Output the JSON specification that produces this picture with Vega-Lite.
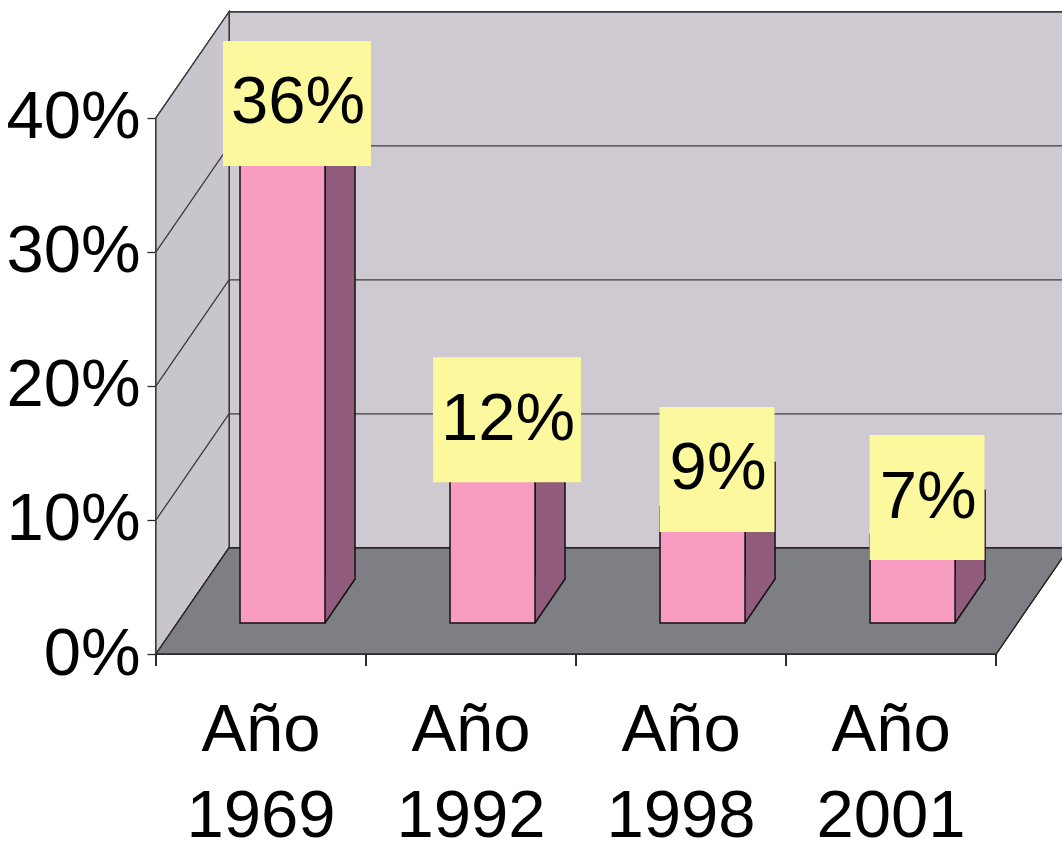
{
  "$schema": "https://vega.github.io/schema/vega-lite/v6.json",
  "width": 906,
  "height": 642,
  "autosize": {"type": "none"},
  "padding": {"left": 156, "top": 12, "right": 0, "bottom": 189},
  "background": "white",
  "config": {
    "view": {"stroke": null},
    "font": "Liberation Sans"
  },
  "datasets": {
    "bars": [
      {"year": "1969", "pct": 0.36},
      {"year": "1992", "pct": 0.124},
      {"year": "1998", "pct": 0.087},
      {"year": "2001", "pct": 0.066}
    ],
    "grid": [{"v": 0.1}, {"v": 0.2}, {"v": 0.3}]
  },
  "data": {"name": "bars"},
  "layer": [
    {
      "mark": {
        "type": "point", "size": 4, "opacity": 1, "filled": true,
        "shape": "M-32,-106 L812,-106 L812,-642 L-32,-642 Z",
        "fill": "#cfcad2", "stroke": "#3c3c3c", "strokeWidth": 1.3
      },
      "encoding": {
        "x": {"datum": "1969", "type": "nominal"},
        "y": {"datum": 0, "type": "quantitative"}
      }
    },
    {
      "mark": {
        "type": "point", "size": 4, "opacity": 1, "filled": true,
        "shape": "M-105,0 L-105,-536 L-32,-642 L-32,-106 Z",
        "fill": "#c8c6cc", "stroke": "#3c3c3c", "strokeWidth": 1.3
      },
      "encoding": {
        "x": {"datum": "1969", "type": "nominal"},
        "y": {"datum": 0, "type": "quantitative"}
      }
    },
    {
      "data": {"name": "grid"},
      "mark": {
        "type": "point", "size": 4, "opacity": 1, "filled": false, "fillOpacity": 0,
        "shape": "M-105,0 L-32,-106 L812,-106",
        "stroke": "#3c3c3c", "strokeWidth": 1.3
      },
      "encoding": {
        "x": {"datum": "1969", "type": "nominal"},
        "y": {"field": "v", "type": "quantitative"}
      }
    },
    {
      "mark": {
        "type": "point", "size": 4, "opacity": 1, "filled": true,
        "shape": "M-105,0 L735,0 L808,-106 L-32,-106 Z",
        "fill": "#7e7f84", "stroke": "#2a2a2a", "strokeWidth": 1.3
      },
      "encoding": {
        "x": {"datum": "1969", "type": "nominal"},
        "y": {"datum": 0, "type": "quantitative"}
      }
    },
    {
      "mark": {
        "type": "point", "size": 4, "opacity": 1, "filled": false, "fillOpacity": 0,
        "shape": "M-105,0 L-105,12 M105,0 L105,12 M315,0 L315,12 M525,0 L525,12 M735,0 L735,12",
        "stroke": "#2a2a2a", "strokeWidth": 1.3
      },
      "encoding": {
        "x": {"datum": "1969", "type": "nominal"},
        "y": {"datum": 0, "type": "quantitative"}
      }
    },
    {
      "mark": {
        "type": "bar", "width": 30, "xOffset": 79, "yOffset": -75, "y2Offset": -75,
        "fill": "#915c7c", "stroke": "#141014", "strokeWidth": 1.5
      },
      "encoding": {
        "x": {
          "field": "year", "type": "nominal",
          "scale": {"paddingInner": 0, "paddingOuter": 0.157, "align": 0},
          "axis": {
            "title": null, "domain": false, "labelAngle": 0, "labelAlign": "center",
            "tickSize": 12, "tickOpacity": 0,
            "labelExpr": "['Año', datum.label]",
            "labelFontSize": 67, "labelColor": "black", "labelLineHeight": 86,
            "labelBaseline": "alphabetic", "labelPadding": 84
          }
        },
        "y": {
          "field": "pct", "type": "quantitative",
          "scale": {"domain": [0, 0.479], "nice": false, "zero": true},
          "axis": {
            "title": null, "domain": false, "grid": false,
            "values": [0, 0.1, 0.2, 0.3, 0.4], "format": ".0%",
            "tickSize": 9, "tickColor": "#2a2a2a", "tickWidth": 1.3,
            "labelFontSize": 67, "labelColor": "black", "labelPadding": 7
          }
        },
        "y2": {"datum": 0}
      }
    },
    {
      "mark": {
        "type": "point", "size": 4, "opacity": 1, "filled": true,
        "shape": "M63.5,-31 L93.2,-75 L93.2,-79 L63.5,-79 Z",
        "fill": "#915c7c", "strokeWidth": 0
      },
      "encoding": {
        "x": {"field": "year", "type": "nominal"},
        "y": {"datum": 0, "type": "quantitative"}
      }
    },
    {
      "mark": {
        "type": "point", "size": 4, "opacity": 1, "filled": false, "fillOpacity": 0,
        "shape": "M64,-31 L94,-75",
        "stroke": "#141014", "strokeWidth": 1.5
      },
      "encoding": {
        "x": {"field": "year", "type": "nominal"},
        "y": {"datum": 0, "type": "quantitative"}
      }
    },
    {
      "mark": {
        "type": "bar", "width": 85, "xOffset": 21.5, "yOffset": -31, "y2Offset": -31,
        "fill": "#f89cc2", "stroke": "#141014", "strokeWidth": 1.5
      },
      "encoding": {
        "x": {"field": "year", "type": "nominal"},
        "y": {"field": "pct", "type": "quantitative"},
        "y2": {"datum": 0}
      }
    },
    {
      "transform": [{"filter": "datum.pct >= 0.1"}],
      "mark": {
        "type": "bar", "width": 148, "xOffset": 36, "yOffset": -130.5, "y2Offset": -5.5,
        "fill": "#fcf89e"
      },
      "encoding": {
        "x": {"field": "year", "type": "nominal"},
        "y": {"field": "pct", "type": "quantitative"},
        "y2": {"field": "pct"}
      }
    },
    {
      "transform": [{"filter": "datum.pct < 0.1"}],
      "mark": {
        "type": "bar", "width": 115, "xOffset": 36, "yOffset": -130.5, "y2Offset": -5.5,
        "fill": "#fcf89e"
      },
      "encoding": {
        "x": {"field": "year", "type": "nominal"},
        "y": {"field": "pct", "type": "quantitative"},
        "y2": {"field": "pct"}
      }
    },
    {
      "mark": {
        "type": "text", "xOffset": 37, "yOffset": -68, "fontSize": 67,
        "baseline": "middle", "align": "center", "color": "black"
      },
      "encoding": {
        "x": {"field": "year", "type": "nominal"},
        "y": {"field": "pct", "type": "quantitative"},
        "text": {"field": "pct", "type": "quantitative", "format": ".0%"}
      }
    }
  ]
}
